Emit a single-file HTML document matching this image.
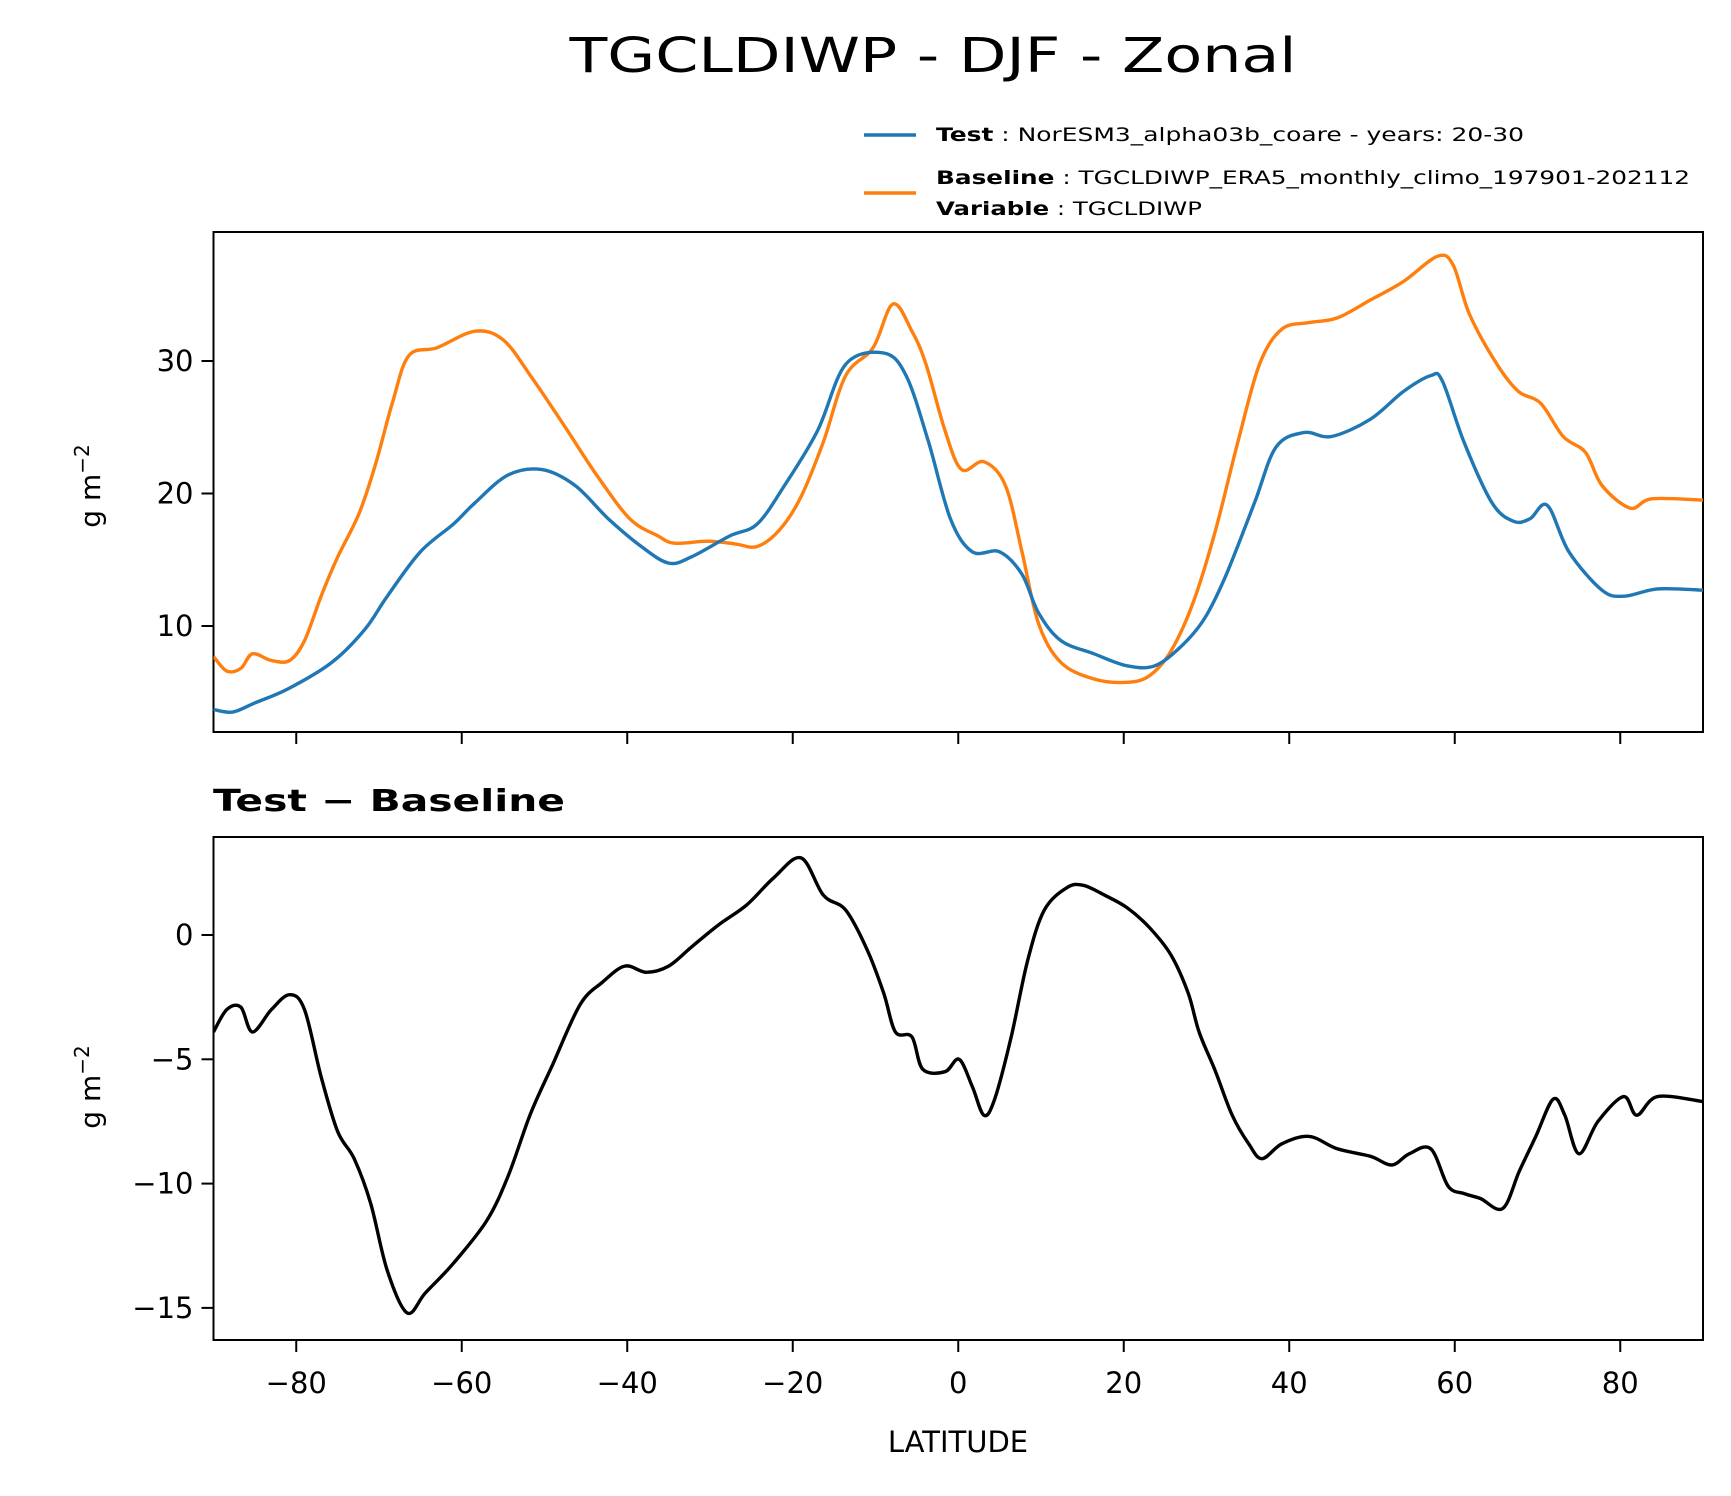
<!DOCTYPE html>
<html><head><meta charset="utf-8"><style>html,body{margin:0;padding:0;background:#fff}svg{display:block}text{font-family:"DejaVu Sans","Liberation Sans",sans-serif}</style></head>
<body>
<svg id="chart" width="1731" height="1496" viewBox="0 0 1731 1496" xmlns="http://www.w3.org/2000/svg">
<rect width="1731" height="1496" fill="#fff"/>
<text x="933" y="72" font-size="48" text-anchor="middle" textLength="727" lengthAdjust="spacingAndGlyphs">TGCLDIWP - DJF - Zonal</text>
<g>
<line x1="864" y1="135" x2="916" y2="135" stroke="#1f77b4" stroke-width="3.5"/>
<text x="936" y="141" font-size="19" textLength="588" lengthAdjust="spacingAndGlyphs"><tspan font-weight="bold">Test</tspan> : NorESM3_alpha03b_coare - years: 20-30</text>
<line x1="864" y1="193" x2="916" y2="193" stroke="#ff7f0e" stroke-width="3.5"/>
<text x="936" y="184" font-size="19" textLength="754" lengthAdjust="spacingAndGlyphs"><tspan font-weight="bold">Baseline</tspan> : TGCLDIWP_ERA5_monthly_climo_197901-202112</text>
<text x="936" y="215" font-size="19" textLength="266" lengthAdjust="spacingAndGlyphs"><tspan font-weight="bold">Variable</tspan> : TGCLDIWP</text>
</g>
<g id="top"></g>
<g id="bot"></g>
<text x="213" y="811" font-size="30" font-weight="bold" textLength="352" lengthAdjust="spacingAndGlyphs">Test − Baseline</text>
<text transform="translate(100,486) rotate(-90)" font-size="28" text-anchor="middle">g m<tspan dy="-11" font-size="20">−2</tspan></text>
<text transform="translate(100,1087) rotate(-90)" font-size="28" text-anchor="middle">g m<tspan dy="-11" font-size="20">−2</tspan></text>
<text x="958" y="1452" font-size="29" text-anchor="middle">LATITUDE</text>
</svg>
<script>
const testLat=[-90,-87.7,-85,-81,-75.7,-71.7,-69,-65,-61,-58.4,-54.4,-50.3,-46.3,-42.3,-38.3,-35,-32.3,-27.6,-24.3,-21,-17,-13.6,-9,-6.3,-3.6,-0.95,1.7,5,7.7,9.7,12.4,16.4,20.4,23.75,27,29.8,32.4,35.8,38.4,41.8,45.1,49.8,53.8,57.1,58.5,61.1,64.5,67.1,69.1,71.2,73.8,77.8,80.5,84.5,90];
const testVal=[3.7,3.5,4.2,5.25,7.25,9.75,12.25,15.6,17.7,19.3,21.4,21.8,20.6,18.1,16,14.75,15.2,16.8,17.7,20.6,24.75,29.75,30.6,28.9,23.9,18.1,15.6,15.6,13.9,11,8.9,7.9,7,7,8.5,10.6,13.9,19.3,23.5,24.6,24.3,25.6,27.7,28.9,28.5,23.9,19.3,17.9,18.1,19.1,15.6,12.7,12.25,12.8,12.7];
const baseLat=[-90,-88.4,-86.7,-85.3,-83,-80.8,-79,-77,-75,-72.4,-70.4,-68.4,-66.4,-63,-58.4,-55,-51.7,-47.7,-43.7,-39.7,-36.3,-34.3,-30.3,-27,-24.3,-21.6,-19,-16.3,-13.6,-10.3,-7.9,-5.6,-3.9,-1.6,0.4,3.1,5.7,7.7,9.7,12.4,16.4,20.4,23.1,25.7,28.4,31.1,33.8,36.4,39.1,42.4,45.8,49.8,53.8,57.9,59.8,61.8,65.1,67.7,70.4,73.1,75.8,77.8,81.2,83.8,90];
const baseVal=[7.7,6.6,6.8,7.9,7.4,7.4,8.9,12.25,15.2,18.5,22.25,26.8,30.4,31,32.25,31.6,28.9,25.2,21.4,18.1,16.8,16.25,16.4,16.2,16,17.25,19.75,23.9,28.9,31,34.3,32.25,29.75,24.75,21.8,22.4,20.6,15.6,10.2,7.25,6,5.75,6.25,8.1,11.8,17.25,23.9,29.75,32.4,32.9,33.25,34.6,36,37.9,37.25,33.5,29.75,27.7,26.8,24.3,23.1,20.6,18.9,19.6,19.5];
const diffLat=[-90,-88.4,-86.7,-85.3,-83,-80.8,-79,-77,-75,-73,-71,-69,-66.6,-64.4,-61,-57,-54.4,-51.7,-49,-45.7,-43,-40.3,-37.7,-35,-32.3,-29,-25.6,-22.3,-19,-16.3,-13.6,-11,-9,-7.6,-5.6,-4.3,-1.6,0.1,1.7,3.1,4.4,6.4,8.4,10.4,13.1,15.1,17.7,20.4,23.1,25.7,27.8,29.1,31.1,33.1,35.1,36.7,39.1,42.4,45.8,49.8,52.4,54.5,57.1,59.2,61.1,63.1,65.8,67.8,69.8,71.9,73.3,75,77.3,80.4,82,84.5,90];
const diffVal=[-3.9,-3.0,-2.9,-3.9,-3.0,-2.4,-3.0,-5.7,-7.9,-9.0,-10.8,-13.5,-15.2,-14.4,-13.2,-11.5,-9.7,-7.2,-5.2,-2.8,-1.9,-1.25,-1.5,-1.25,-0.5,0.4,1.2,2.3,3.1,1.6,1.0,-0.6,-2.35,-3.9,-4.1,-5.4,-5.5,-5.0,-6.1,-7.25,-6.6,-4.1,-1.0,1.0,1.9,2.0,1.6,1.1,0.3,-0.8,-2.35,-3.9,-5.5,-7.25,-8.4,-9.0,-8.4,-8.1,-8.6,-8.9,-9.25,-8.8,-8.6,-10.1,-10.4,-10.6,-11.0,-9.5,-8.1,-6.6,-7.25,-8.8,-7.5,-6.5,-7.25,-6.5,-6.7];
const xTicks=[-80,-60,-40,-20,0,20,40,60,80];
const topTicks=[10,20,30];
const botTicks=[0,-5,-10,-15];

const NS='http://www.w3.org/2000/svg';
const L=213.5,R=1703;
const x=v=>L+(v+90)*(R-L)/180;
const yTop=v=>361+(30-v)*13.25;
const yBot=v=>935-v*24.86;
function mk(p,t,a){const e=document.createElementNS(NS,t);for(const k in a)e.setAttribute(k,a[k]);p.appendChild(e);return e;}
function line(g,lat,val,fy,col,name){
  const P=lat.map((l,i)=>[x(l),fy(val[i])]);
  let d='M'+P[0][0].toFixed(1)+','+P[0][1].toFixed(1);
  for(let i=0;i<P.length-1;i++){
    const p0=P[Math.max(0,i-1)],p1=P[i],p2=P[i+1],p3=P[Math.min(P.length-1,i+2)];
    const c1=[p1[0]+(p2[0]-p0[0])/6,p1[1]+(p2[1]-p0[1])/6];
    const c2=[p2[0]-(p3[0]-p1[0])/6,p2[1]-(p3[1]-p1[1])/6];
    d+='C'+c1[0].toFixed(1)+','+c1[1].toFixed(1)+' '+c2[0].toFixed(1)+','+c2[1].toFixed(1)+' '+p2[0].toFixed(1)+','+p2[1].toFixed(1);
  }
  const p=mk(g,'path',{d:d,fill:'none',stroke:col,'stroke-width':3.4,'stroke-linejoin':'round'});
  
  
}
function axes(g,top,bot,yt,fy,name,labels){
  const cp=mk(g,'clipPath',{id:'c'+name});mk(cp,'rect',{x:L,y:top,width:R-L,height:bot-top});
  const frame=mk(g,'rect',{x:L,y:top,width:R-L,height:bot-top,fill:'none',stroke:'#000','stroke-width':2});
  
  
  xTicks.forEach(t=>{
    const tk=mk(g,'line',{x1:x(t),x2:x(t),y1:bot,y2:bot+12,stroke:'#000','stroke-width':2});
    
    
    if(labels){const tx=mk(g,'text',{x:x(t),y:bot+53,'font-size':29,'text-anchor':'middle'});tx.textContent=t<0?'−'+(-t):t;
      
      }
  });
  yt.forEach(t=>{
    const tk=mk(g,'line',{x1:L-12,x2:L,y1:fy(t),y2:fy(t),stroke:'#000','stroke-width':2});
    
    
    const tx=mk(g,'text',{x:L-20,y:fy(t)+10,'font-size':29,'text-anchor':'end'});tx.textContent=t<0?'−'+(-t):t;
    
    
  });
  const cg=mk(g,'g',{'clip-path':'url(#c'+name+')'});return cg;
}
const tg=document.getElementById('top');


const tc=axes(tg,232,732,topTicks,yTop,'top',false);
line(tc,baseLat,baseVal,yTop,'#ff7f0e','baseline-line');
line(tc,testLat,testVal,yTop,'#1f77b4','test-line');
const bg=document.getElementById('bot');


const bc=axes(bg,837,1340,botTicks,yBot,'bottom',true);
line(bc,diffLat,diffVal,yBot,'#000','difference-line');
</script>
</body></html>
